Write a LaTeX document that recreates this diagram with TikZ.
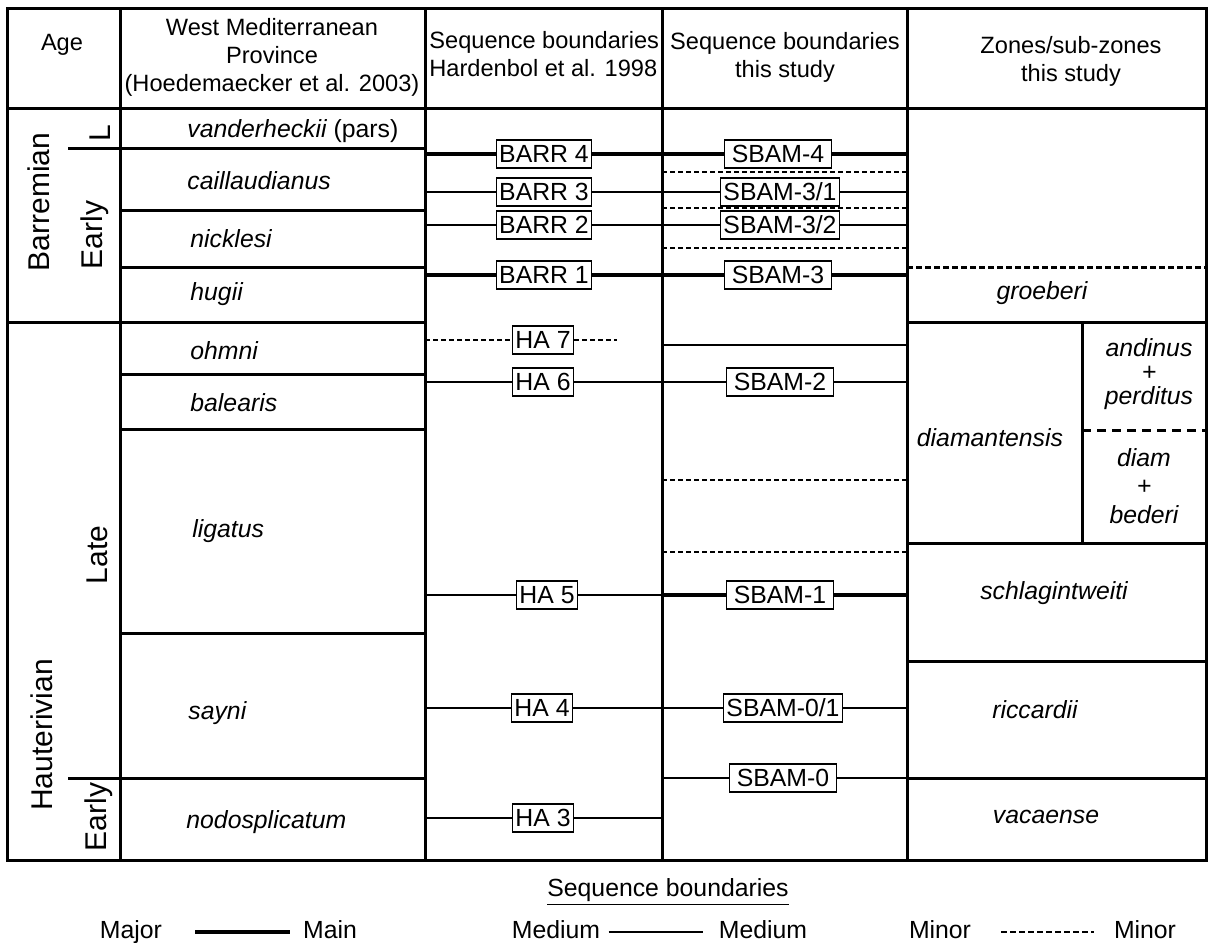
\documentclass[tikz,border=0pt]{standalone}
\usepackage{fontspec}
\setmainfont{Liberation Sans}
\usetikzlibrary{positioning}

\tikzset{
  frame/.style={line width=1.5pt},
  majorsb/.style={line width=2pt},
  mediumsb/.style={line width=1pt},
  minorsb/.style={line width=1pt, dash pattern=on 2.5pt off 1.5pt},
  zonedash/.style={line width=1.5pt, dash pattern=on 3pt off 1.5pt},
  subdash/.style={line width=1.5pt, dash pattern=on 4.5pt off 3pt},
  sbbox/.style={draw, line width=0.6pt, fill=white, inner xsep=1.5pt, inner ysep=2.25pt,
    text height=9pt, text depth=0.5pt, font={\fontsize{12.4}{14}\selectfont}},
  sbthis/.style={sbbox, minimum width=53.5pt},
  hdr/.style={align=center, inner sep=0pt, font={\fontsize{11.8}{14}\selectfont}},
  zone/.style={inner sep=0pt, align=center, font={\fontsize{12.4}{14}\selectfont\itshape}},
  agelbl/.style={rotate=90, inner sep=0pt, font={\fontsize{15}{18}\selectfont}},
  lgtext/.style={inner sep=0pt, text height=9pt, text depth=2.5pt, font={\fontsize{12.4}{14}\selectfont}}
}

\begin{document}
\begin{tikzpicture}[x=0.5pt, y=-0.5pt]
  \useasboundingbox (0,0) rectangle (1211,943);

  % Frame and columns
  \draw[frame] (7,8) rectangle (1206,860);
  \draw[frame] (7,108) -- (1206,108);
  \foreach \cx in {120,425,662,907}
    \draw[frame] (\cx,8) -- (\cx,860);

  % Header
  \node[hdr] (hage) at (62,45) {Age};
  \node[hdr] (hwmp) at (272,57) {West Mediterranean\\Province\\(Hoedemaecker et al. 2003)};
  \node[hdr, align=left, anchor=west] (hhard) at (429,54) {Sequence boundaries\\Hardenbol et al. 1998};
  \node[hdr] (hthis) at (785,57) {Sequence boundaries\\this study};
  \node[hdr] (hzone) at (1071,61) {Zones/sub-zones\\this study};

  % Age column
  \draw[frame] (7,322) -- (425,322);
  \draw[frame] (68,148) -- (425,148);
  \draw[frame] (68,778) -- (425,778);
  \foreach \ry in {210,267,374,429,633}
    \draw[frame] (120,\ry) -- (425,\ry);

  \node[agelbl] (barremian) at (38.5,202) {Barremian};
  \node[agelbl] (barrlate) at (100,133) {L};
  \node[agelbl] (barrearly) at (95,235) {Early};
  \node[agelbl] (hautlate) at (97,555) {Late};
  \node[agelbl] (hauterivian) at (41.5,735) {Hauterivian};
  \node[agelbl] (hautearly) at (99,817) {Early};

  % West Mediterranean zones
  \node[zone, anchor=west] (vanderheckii) at (187,131) {vanderheckii \upshape(pars)};
  \node[zone, anchor=west] (caillaudianus) at (187,181) {caillaudianus};
  \node[zone, anchor=west] (nicklesi) at (190,239) {nicklesi};
  \node[zone, anchor=west] (hugii) at (190,294) {hugii};
  \node[zone, anchor=west] (ohmni) at (190,351) {ohmni};
  \node[zone, anchor=west] (balearis) at (190,403) {balearis};
  \node[zone, anchor=west] (ligatus) at (192,531) {ligatus};
  \node[zone, anchor=west] (sayni) at (188,713) {sayni};
  \node[zone, anchor=west] (nodosplicatum) at (186,822) {nodosplicatum};

  % Hardenbol boundaries
  \node[sbbox] (barr4) at (544,154) {BARR 4};
  \node[sbbox] (barr3) at (544,192) {BARR 3};
  \node[sbbox] (barr2) at (544,225) {BARR 2};
  \node[sbbox] (barr1) at (544,275) {BARR 1};
  \node[sbbox] (ha7) at (543,340) {HA 7};
  \node[sbbox] (ha6) at (543,382) {HA 6};
  \node[sbbox] (ha5) at (547,595) {HA 5};
  \node[sbbox] (ha4) at (542,708) {HA 4};
  \node[sbbox] (ha3) at (543,818) {HA 3};

  % This study boundaries
  \node[sbthis] (sbam4) at (778,154) {SBAM-4};
  \node[sbthis] (sbam31) at (780,192) {SBAM-3/1};
  \node[sbthis] (sbam32) at (780,225) {SBAM-3/2};
  \node[sbthis] (sbam3) at (778,275) {SBAM-3};
  \node[sbthis] (sbam2) at (780,382) {SBAM-2};
  \node[sbthis] (sbam1) at (780,595) {SBAM-1};
  \node[sbthis] (sbam01) at (783,708) {SBAM-0/1};
  \node[sbthis] (sbam0) at (783,778) {SBAM-0};

  \draw[majorsb] (425,154) -- (barr4) -- (sbam4) -- (907,154);
  \draw[mediumsb] (425,192) -- (barr3) -- (sbam31) -- (907,192);
  \draw[mediumsb] (425,225) -- (barr2) -- (sbam32) -- (907,225);
  \draw[majorsb] (425,275) -- (barr1) -- (sbam3) -- (907,275);
  \draw[minorsb] (425,340) -- (ha7) -- (617,340);
  \draw[mediumsb] (425,382) -- (ha6) -- (sbam2) -- (907,382);
  \draw[mediumsb] (425,595) -- (ha5) -- (662,595);
  \draw[majorsb] (662,595) -- (sbam1) -- (907,595);
  \draw[mediumsb] (425,708) -- (ha4) -- (sbam01) -- (907,708);
  \draw[mediumsb] (425,818) -- (ha3) -- (662,818);
  \draw[mediumsb] (662,778) -- (sbam0) -- (907,778);

  \draw[minorsb] (662,172) -- (907,172);
  \draw[minorsb] (662,208) -- (907,208);
  \draw[minorsb] (662,248) -- (907,248);
  \draw[mediumsb] (662,345) -- (907,345);
  \draw[minorsb] (662,480) -- (907,480);
  \draw[minorsb] (662,552) -- (907,552);

  % Zones / sub-zones
  \draw[zonedash] (907,267) -- (1206,267);
  \draw[frame] (907,322) -- (1206,322);
  \draw[frame] (1082,322) -- (1082,543);
  \draw[subdash] (1082,430) -- (1206,430);
  \draw[frame] (907,543) -- (1206,543);
  \draw[frame] (907,661) -- (1206,661);
  \draw[frame] (907,778) -- (1206,778);

  \node[zone] (groeberi) at (1042,293) {groeberi};
  \node[zone] (diamantensis) at (990,438) {diamantensis};
  \node[zone, font={\fontsize{12.4}{12}\selectfont\itshape}] (andinus) at (1149,374) {andinus\\+\\perditus};
  \node[zone, font={\fontsize{12.4}{14.25}\selectfont\itshape}] (diam) at (1144,486) {diam\\+\\bederi};
  \node[zone] (schlagintweiti) at (1054,593) {schlagintweiti};
  \node[zone] (riccardii) at (1035,710) {riccardii};
  \node[zone] (vacaense) at (1046,817) {vacaense};

  % Legend
  \node[lgtext] (lgtitle) at (668,890) {\underline{Sequence boundaries}};
  \node[lgtext] (lgmajor) at (131,932) {Major};
  \node[lgtext] (lgmain) at (330,932) {Main};
  \node[lgtext] (lgmed) at (556,932) {Medium};
  \node[lgtext] (lgmedium) at (763,932) {Medium};
  \node[lgtext] (lgminor) at (940,932) {Minor};
  \node[lgtext] (lgminorz) at (1145,932) {Minor};

  \draw[majorsb] ([xshift=16.5pt]lgmajor.east) -- ([xshift=-6.5pt]lgmain.west);
  \draw[mediumsb] ([xshift=4pt]lgmed.east) -- ([xshift=-8pt]lgmedium.west);
  \draw[mediumsb, dash pattern=on 3pt off 1.5pt] ([xshift=15pt]lgminor.east) -- ([xshift=-10pt]lgminorz.west);
\end{tikzpicture}
\end{document}
